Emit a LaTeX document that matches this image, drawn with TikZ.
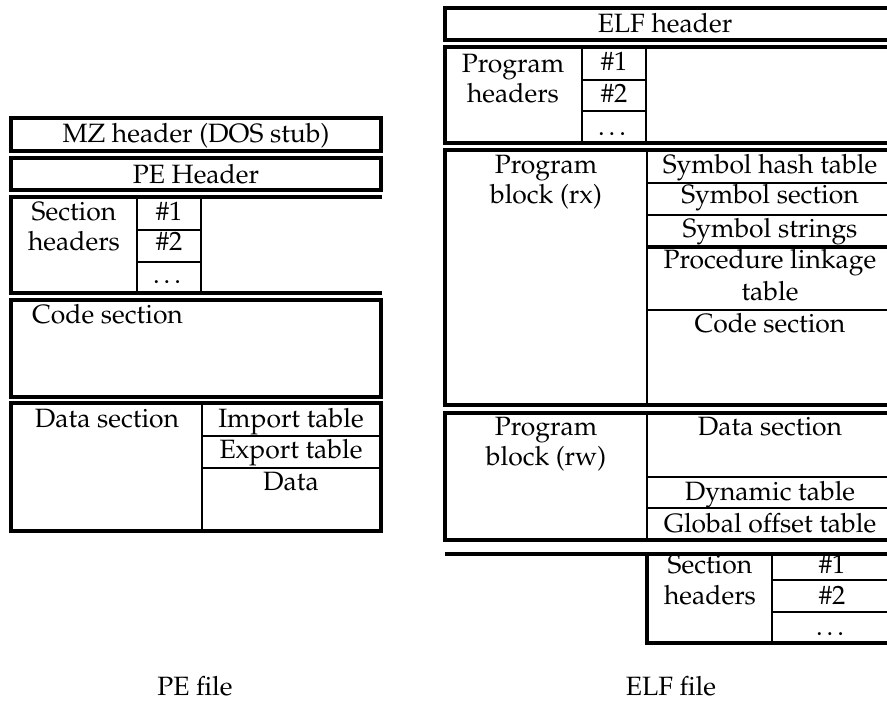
\documentclass[tikz,border=0pt]{standalone}
\usepackage[T1]{fontenc}
\usepackage{mathpazo}
\begin{document}
\begin{tikzpicture}[x=1pt,y=-1pt,
  outer/.style={line width=3.2pt},
  inner/.style={line width=2.2pt},
  lbl/.style={anchor=base,inner sep=0pt,font=\fontsize{26.5}{30}\selectfont}]
\useasboundingbox (0,0) rectangle (887,702);
% ---------------- PE file ----------------
\draw[outer] (11,118) rectangle (381,151);
\node[lbl] (mz) at (196,142) {MZ header (DOS stub)};
\draw[outer] (11,158) rectangle (381,190);
\node[lbl] (peh) at (196,183) {PE Header};
\draw[outer] (382,197) -- (11,197) -- (11,293) -- (382,293);
\draw[inner] (137,197) -- (137,293) (201,197) -- (201,293)
  (137,230) -- (201,230) (137,262) -- (201,262);
\node[lbl] (pesec1) at (74,220) {Section};
\node[lbl] (pesec2) at (74,250) {headers};
\node[lbl] (pen1) at (169,220) {\#1};
\node[lbl] (pen2) at (169,250) {\#2};
\node[lbl] (pen3) at (169,283) {\dots};
\draw[outer] (11,300) rectangle (381,397);
\node[lbl,anchor=base west] (pecode) at (32,323) {Code section};
\draw[outer] (11,403) rectangle (381,531);
\draw[inner] (202,403) -- (202,531) (202,436) -- (381,436) (202,468) -- (381,468);
\node[lbl] (pedata) at (107,427) {Data section};
\node[lbl] (peimp) at (291,427) {Import table};
\node[lbl] (peexp) at (291,458) {Export table};
\node[lbl] (pedat) at (291,490) {Data};
\node[lbl] (pefile) at (195,695) {PE file};
% ---------------- ELF file ----------------
\draw[outer] (445,8) rectangle (893,40);
\node[lbl] (elfh) at (665,32) {ELF header};
\draw[outer] (893,47) -- (445,47) -- (445,143) -- (893,143);
\draw[inner] (582,47) -- (582,143) (646,47) -- (646,143)
  (582,80) -- (646,80) (582,111) -- (646,111);
\node[lbl] (ph1) at (513,72) {Program};
\node[lbl] (ph2) at (513,102) {headers};
\node[lbl] (phn1) at (614,70) {\#1};
\node[lbl] (phn2) at (614,102) {\#2};
\node[lbl] (phn3) at (614,135) {\dots};
\draw[outer] (445,150) rectangle (893,405);
\draw[inner] (647,150) -- (647,405)
  (647,183) -- (893,183) (647,215) -- (893,215) (647,310) -- (893,310);
\draw[outer] (647,247) -- (893,247);
\node[lbl] (rx1) at (546,173) {Program};
\node[lbl] (rx2) at (546,203) {block (rx)};
\node[lbl] (sht) at (770,173) {Symbol hash table};
\node[lbl] (ssec) at (770,203) {Symbol section};
\node[lbl] (sstr) at (770,237) {Symbol strings};
\node[lbl] (plt1) at (770,268) {Procedure linkage};
\node[lbl] (plt2) at (770,300) {table};
\node[lbl] (code) at (770,332) {Code section};
\draw[outer] (445,413) rectangle (893,540);
\draw[inner] (647,413) -- (647,540) (647,477) -- (893,477) (647,508) -- (893,508);
\node[lbl] (rw1) at (546,435) {Program};
\node[lbl] (rw2) at (546,465) {block (rw)};
\node[lbl] (dsec) at (770,435) {Data section};
\node[lbl] (dyn) at (770,500) {Dynamic table};
\node[lbl] (got) at (770,532) {Global offset table};
\draw[outer] (445,554) -- (893,554) (647,554) -- (647,643) -- (893,643);
\draw[inner] (772,554) -- (772,643) (772,580) -- (893,580) (772,612) -- (893,612);
\node[lbl] (es1) at (710,573) {Section};
\node[lbl] (es2) at (710,604) {headers};
\node[lbl] (esn1) at (832,573) {\#1};
\node[lbl] (esn2) at (832,604) {\#2};
\node[lbl] (esn3) at (832,635) {\dots};
\node[lbl] (elffile) at (671,695) {ELF file};
\end{tikzpicture}
\end{document}
